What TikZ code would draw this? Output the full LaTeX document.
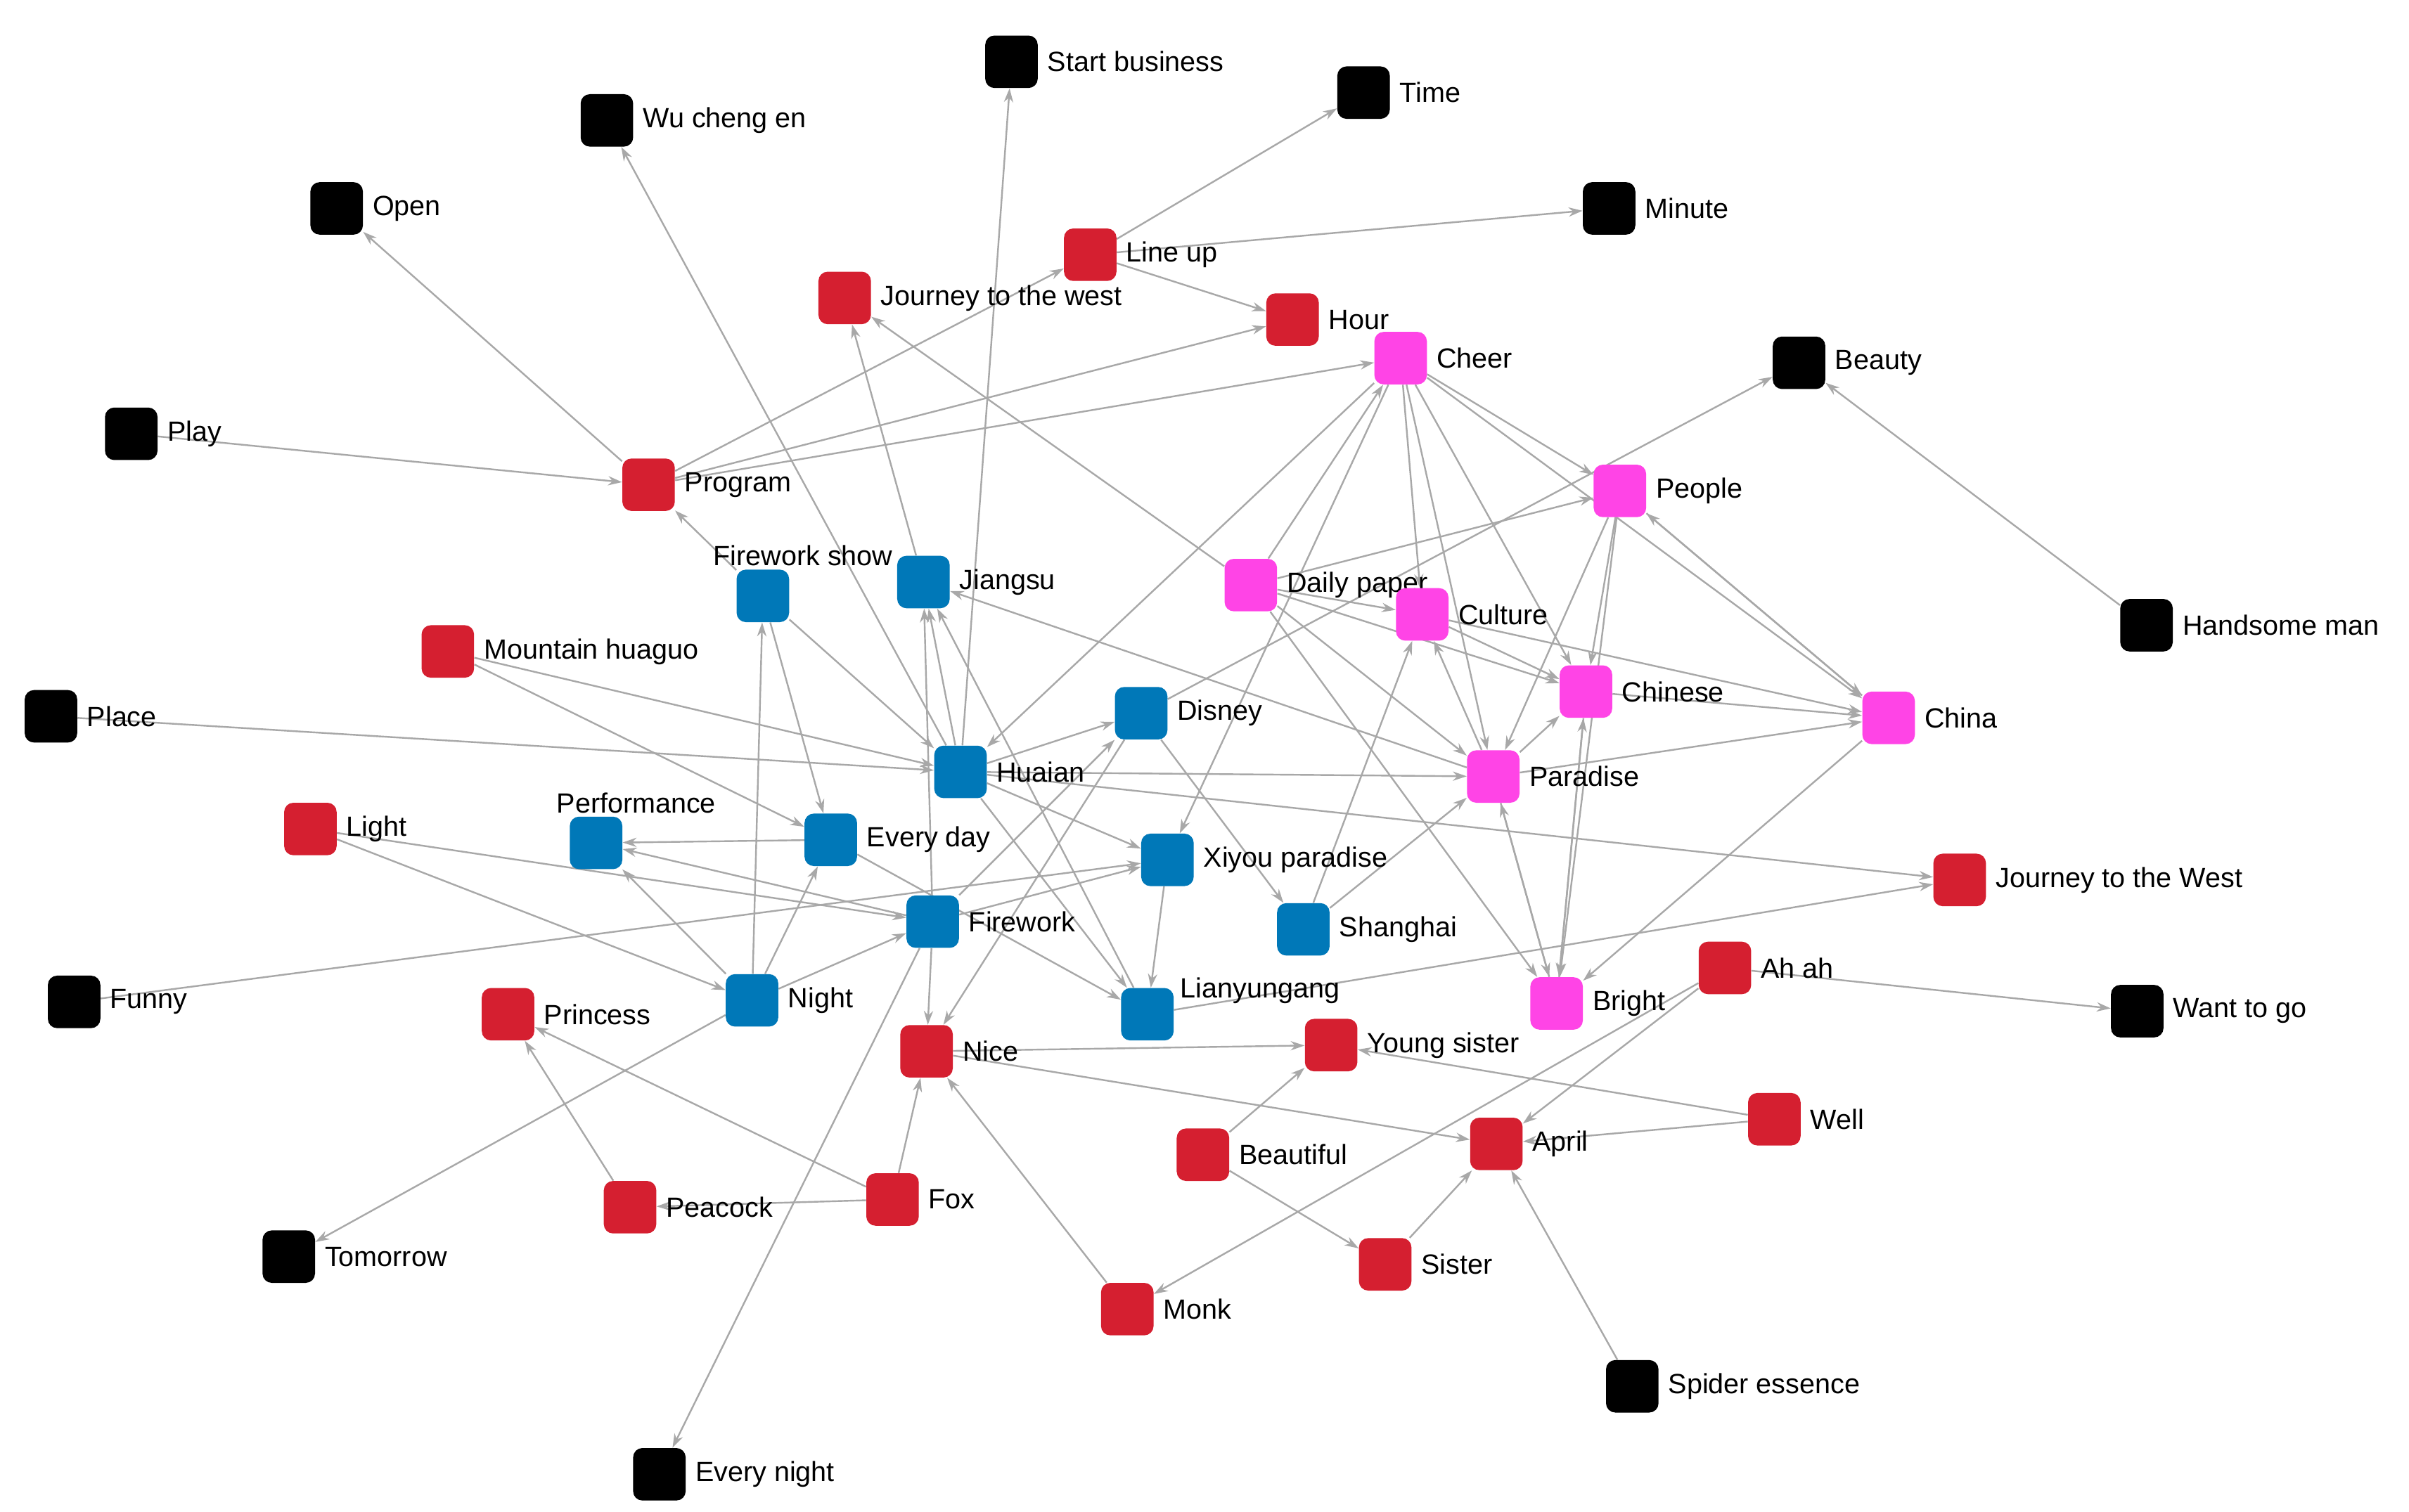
\documentclass[tikz,border=0pt]{standalone}
\usepackage{fontspec}
\setmainfont{Liberation Sans}
\usetikzlibrary{arrows.meta,backgrounds}
\definecolor{cr}{HTML}{D51F30}
\definecolor{cb}{HTML}{0078B8}
\definecolor{cp}{HTML}{FF44E6}
\definecolor{ed}{HTML}{A8A8A8}
\tikzset{
 nd/.style={minimum size=34pt,inner sep=0pt,rounded corners=6pt,draw=none},
 R/.style={nd,fill=cr},B/.style={nd,fill=cb},P/.style={nd,fill=cp},K/.style={nd,fill=black},
 every label/.style={font=\fontsize{18}{18}\selectfont,inner sep=2pt},
 ar/.style={draw=ed,line width=1.1pt,-{Stealth[length=9pt,width=6pt]}},
}
\newcommand{\nn}[5]{\node[#1,label={[anchor=west,xshift=4pt]east:#5}] (#2) at (#3,#4) {};}
\begin{document}
\begin{tikzpicture}[x=1pt,y=-1pt]
\useasboundingbox (0,0) rectangle (1560,979);
\nn{K}{sb}{655}{40}{Start business}
\nn{K}{time}{883}{60}{Time}
\nn{K}{wu}{393}{78}{Wu cheng en}
\nn{K}{minute}{1042}{135}{Minute}
\nn{K}{open}{218}{135}{Open}
\nn{R}{lineup}{706}{165}{Line up}
\nn{R}{jw}{547}{193}{Journey to the west}
\nn{R}{hour}{837}{207}{Hour}
\nn{P}{cheer}{907}{232}{Cheer}
\nn{K}{beauty}{1165}{235}{Beauty}
\nn{K}{play}{85}{281}{Play}
\nn{R}{program}{420}{314}{Program}
\nn{P}{people}{1049}{318}{People}
\nn{K}{hand}{1390}{405}{Handsome man}
\node[B,label={[xshift=26pt]north:Firework show}] (fs) at (494,386) {};
\nn{B}{jiangsu}{598}{377}{Jiangsu}
\nn{P}{daily}{810}{379}{Daily paper}
\nn{P}{culture}{921}{398}{Culture}
\nn{R}{mh}{290}{422}{Mountain huaguo}
\nn{K}{place}{33}{464}{Place}
\nn{P}{chinese}{1027}{448}{Chinese}
\nn{P}{china}{1223}{465}{China}
\nn{B}{disney}{739}{462}{Disney}
\nn{B}{huaian}{622}{500}{Huaian}
\nn{P}{paradise}{967}{503}{Paradise}
\nn{R}{light}{201}{537}{Light}
\node[B,label={[xshift=26pt]north:Performance}] (perf) at (386,546) {};
\nn{B}{everyday}{538}{544}{Every day}
\nn{B}{xiyou}{756}{557}{Xiyou paradise}
\nn{R}{jW}{1269}{570}{Journey to the West}
\nn{B}{firework}{604}{597}{Firework}
\nn{B}{shanghai}{844}{602}{Shanghai}
\nn{R}{ahah}{1117}{627}{Ah ah}
\nn{K}{funny}{48}{649}{Funny}
\nn{B}{night}{487}{648}{Night}
\nn{R}{princess}{329}{657}{Princess}
\node[B,label={[anchor=west,xshift=2pt,yshift=-2pt]north east:Lianyungang}] (lyg) at (743,657) {};
\nn{P}{bright}{1008}{650}{Bright}
\nn{K}{want}{1384}{655}{Want to go}
\nn{R}{nice}{600}{681}{Nice}
\nn{R}{young}{862}{677}{Young sister}
\nn{R}{well}{1149}{725}{Well}
\nn{R}{beautiful}{779}{748}{Beautiful}
\nn{R}{april}{969}{741}{April}
\nn{R}{peacock}{408}{782}{Peacock}
\nn{R}{fox}{578}{777}{Fox}
\nn{K}{tomorrow}{187}{814}{Tomorrow}
\nn{R}{sister}{897}{819}{Sister}
\nn{R}{monk}{730}{848}{Monk}
\nn{K}{spider}{1057}{898}{Spider essence}
\nn{K}{evnight}{427}{955}{Every night}
\begin{pgfonlayer}{background}
\fill[white] (0,0) rectangle (1560,979);
\foreach \a/\b in {program/open,play/program,program/hour,program/lineup,program/cheer,
 lineup/time,lineup/minute,lineup/hour,fs/program,huaian/wu,huaian/sb,jiangsu/jw,daily/jw,
 fs/huaian,huaian/jiangsu,firework/jiangsu,lyg/jiangsu,paradise/jiangsu,night/fs,fs/everyday,
 mh/huaian,mh/everyday,place/huaian,huaian/disney,cheer/huaian,huaian/paradise,huaian/jW,huaian/xiyou,
 huaian/lyg,disney/shanghai,firework/disney,disney/nice,cheer/xiyou,daily/cheer,
 cheer/culture,cheer/paradise,cheer/chinese,cheer/people,cheer/china,
 people/chinese,people/bright,people/paradise,people/china,china/people,
 daily/people,daily/culture,daily/chinese,daily/paradise,daily/bright,disney/beauty,hand/beauty,
 culture/chinese,paradise/culture,shanghai/culture,culture/china,chinese/china,paradise/chinese,
 paradise/china,paradise/bright,bright/paradise,bright/chinese,chinese/bright,china/bright,
 shanghai/paradise,xiyou/lyg,lyg/jW,funny/xiyou,light/night,light/firework,
 firework/perf,everyday/perf,night/perf,night/everyday,night/firework,everyday/lyg,
 firework/xiyou,firework/nice,firework/evnight,night/tomorrow,
 nice/young,nice/april,fox/nice,monk/nice,fox/princess,peacock/princess,fox/peacock,
 beautiful/young,beautiful/sister,sister/april,spider/april,well/april,well/young,
 ahah/want,ahah/monk,ahah/april}
 {\draw[ar] (\a) -- (\b);}
\end{pgfonlayer}
\end{tikzpicture}
\end{document}
